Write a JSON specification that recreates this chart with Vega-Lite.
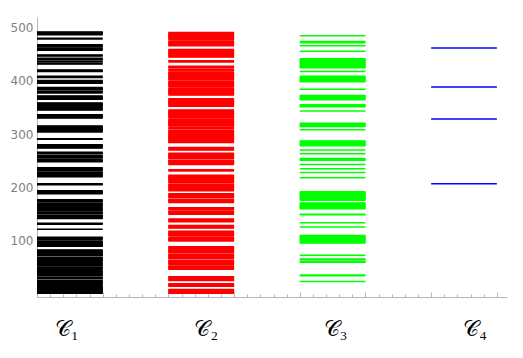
{
"$schema": "https://vega.github.io/schema/vega-lite/v6.json",
"width": 470, "height": 280,
"autosize": {"type": "none"},
"padding": {"left": 37, "top": 17, "right": 16, "bottom": 61},
"background": "white",
"config": {"view": {"stroke": null}, "axis": {"grid": false}},
"datasets": {
"lines": [
{"c":"C1","v":486},{"c":"C1","v":487},{"c":"C1","v":488},{"c":"C1","v":489},{"c":"C1","v":490},{"c":"C1","v":491},
{"c":"C1","v":478},{"c":"C1","v":479},
{"c":"C1","v":457},{"c":"C1","v":458},{"c":"C1","v":459},{"c":"C1","v":460},{"c":"C1","v":463},{"c":"C1","v":464},{"c":"C1","v":465},{"c":"C1","v":466},{"c":"C1","v":467},
{"c":"C1","v":446},{"c":"C1","v":447},{"c":"C1","v":448},
{"c":"C1","v":431},{"c":"C1","v":432},{"c":"C1","v":435},{"c":"C1","v":436},{"c":"C1","v":439},{"c":"C1","v":440},{"c":"C1","v":441},{"c":"C1","v":442},
{"c":"C1","v":417},{"c":"C1","v":418},{"c":"C1","v":419},{"c":"C1","v":420},
{"c":"C1","v":406},{"c":"C1","v":407},{"c":"C1","v":408},
{"c":"C1","v":395},{"c":"C1","v":396},{"c":"C1","v":397},{"c":"C1","v":398},{"c":"C1","v":399},{"c":"C1","v":400},
{"c":"C1","v":377},{"c":"C1","v":378},{"c":"C1","v":379},{"c":"C1","v":380},{"c":"C1","v":383},{"c":"C1","v":384},{"c":"C1","v":385},{"c":"C1","v":386},{"c":"C1","v":387},
{"c":"C1","v":365},{"c":"C1","v":366},{"c":"C1","v":367},{"c":"C1","v":368},{"c":"C1","v":369},{"c":"C1","v":370},{"c":"C1","v":371},
{"c":"C1","v":345},{"c":"C1","v":346},{"c":"C1","v":347},{"c":"C1","v":348},{"c":"C1","v":349},{"c":"C1","v":352},{"c":"C1","v":353},{"c":"C1","v":354},{"c":"C1","v":355},{"c":"C1","v":356},{"c":"C1","v":357},{"c":"C1","v":358},
{"c":"C1","v":330},{"c":"C1","v":331},{"c":"C1","v":332},{"c":"C1","v":333},{"c":"C1","v":334},{"c":"C1","v":335},{"c":"C1","v":336},
{"c":"C1","v":304},{"c":"C1","v":305},{"c":"C1","v":306},{"c":"C1","v":307},{"c":"C1","v":308},{"c":"C1","v":309},{"c":"C1","v":310},{"c":"C1","v":311},{"c":"C1","v":312},{"c":"C1","v":313},{"c":"C1","v":314},{"c":"C1","v":315},
{"c":"C1","v":290},{"c":"C1","v":291},
{"c":"C1","v":274},{"c":"C1","v":275},{"c":"C1","v":276},{"c":"C1","v":277},{"c":"C1","v":278},{"c":"C1","v":279},{"c":"C1","v":280},
{"c":"C1","v":248},{"c":"C1","v":249},{"c":"C1","v":250},{"c":"C1","v":251},{"c":"C1","v":252},{"c":"C1","v":255},{"c":"C1","v":256},{"c":"C1","v":257},{"c":"C1","v":258},{"c":"C1","v":259},{"c":"C1","v":260},{"c":"C1","v":263},{"c":"C1","v":264},{"c":"C1","v":265},{"c":"C1","v":266},
{"c":"C1","v":220},{"c":"C1","v":221},{"c":"C1","v":222},{"c":"C1","v":223},{"c":"C1","v":224},{"c":"C1","v":225},{"c":"C1","v":226},{"c":"C1","v":227},{"c":"C1","v":228},{"c":"C1","v":229},{"c":"C1","v":232},{"c":"C1","v":233},{"c":"C1","v":234},{"c":"C1","v":235},{"c":"C1","v":236},{"c":"C1","v":237},
{"c":"C1","v":205},{"c":"C1","v":206},{"c":"C1","v":207},
{"c":"C1","v":188},{"c":"C1","v":189},{"c":"C1","v":190},{"c":"C1","v":191},{"c":"C1","v":192},{"c":"C1","v":193},{"c":"C1","v":194},
{"c":"C1","v":142},{"c":"C1","v":143},{"c":"C1","v":144},{"c":"C1","v":145},{"c":"C1","v":146},{"c":"C1","v":147},{"c":"C1","v":148},{"c":"C1","v":151},{"c":"C1","v":152},{"c":"C1","v":153},{"c":"C1","v":154},{"c":"C1","v":157},{"c":"C1","v":158},{"c":"C1","v":159},{"c":"C1","v":160},{"c":"C1","v":161},{"c":"C1","v":162},{"c":"C1","v":165},{"c":"C1","v":166},{"c":"C1","v":167},{"c":"C1","v":168},{"c":"C1","v":169},{"c":"C1","v":170},{"c":"C1","v":173},{"c":"C1","v":174},{"c":"C1","v":175},{"c":"C1","v":176},{"c":"C1","v":177},
{"c":"C1","v":131},{"c":"C1","v":132},{"c":"C1","v":133},
{"c":"C1","v":122},
{"c":"C1","v":90},{"c":"C1","v":91},{"c":"C1","v":92},{"c":"C1","v":93},{"c":"C1","v":94},{"c":"C1","v":95},{"c":"C1","v":96},{"c":"C1","v":97},{"c":"C1","v":98},{"c":"C1","v":99},{"c":"C1","v":100},{"c":"C1","v":103},{"c":"C1","v":104},{"c":"C1","v":105},{"c":"C1","v":106},{"c":"C1","v":107},
{"c":"C1","v":2},{"c":"C1","v":3},{"c":"C1","v":4},{"c":"C1","v":5},{"c":"C1","v":6},{"c":"C1","v":7},{"c":"C1","v":8},{"c":"C1","v":9},{"c":"C1","v":10},{"c":"C1","v":11},{"c":"C1","v":12},{"c":"C1","v":13},{"c":"C1","v":14},{"c":"C1","v":15},{"c":"C1","v":16},
{"c":"C1","v":19},{"c":"C1","v":20},{"c":"C1","v":21},{"c":"C1","v":22},{"c":"C1","v":23},{"c":"C1","v":24},{"c":"C1","v":25},{"c":"C1","v":26},
{"c":"C1","v":29},{"c":"C1","v":30},{"c":"C1","v":31},{"c":"C1","v":32},
{"c":"C1","v":35},{"c":"C1","v":36},{"c":"C1","v":37},{"c":"C1","v":38},{"c":"C1","v":39},{"c":"C1","v":40},{"c":"C1","v":41},{"c":"C1","v":42},{"c":"C1","v":43},{"c":"C1","v":44},
{"c":"C1","v":47},{"c":"C1","v":48},{"c":"C1","v":49},{"c":"C1","v":50},{"c":"C1","v":51},
{"c":"C1","v":54},{"c":"C1","v":55},{"c":"C1","v":56},{"c":"C1","v":57},{"c":"C1","v":58},{"c":"C1","v":59},
{"c":"C1","v":62},{"c":"C1","v":63},{"c":"C1","v":64},{"c":"C1","v":65},{"c":"C1","v":66},{"c":"C1","v":67},{"c":"C1","v":68},{"c":"C1","v":69},
{"c":"C1","v":72},{"c":"C1","v":73},{"c":"C1","v":74},{"c":"C1","v":75},{"c":"C1","v":76},{"c":"C1","v":77},{"c":"C1","v":78},{"c":"C1","v":79},{"c":"C1","v":80},{"c":"C1","v":81},{"c":"C1","v":82},{"c":"C1","v":83},

{"c":"C2","v":465},{"c":"C2","v":466},{"c":"C2","v":467},{"c":"C2","v":468},{"c":"C2","v":469},{"c":"C2","v":470},{"c":"C2","v":471},{"c":"C2","v":472},{"c":"C2","v":473},{"c":"C2","v":474},
{"c":"C2","v":477},{"c":"C2","v":478},{"c":"C2","v":479},{"c":"C2","v":480},{"c":"C2","v":481},{"c":"C2","v":482},{"c":"C2","v":483},{"c":"C2","v":484},{"c":"C2","v":485},{"c":"C2","v":486},{"c":"C2","v":487},{"c":"C2","v":488},{"c":"C2","v":489},{"c":"C2","v":490},
{"c":"C2","v":444},{"c":"C2","v":445},{"c":"C2","v":446},{"c":"C2","v":447},{"c":"C2","v":448},{"c":"C2","v":449},{"c":"C2","v":450},{"c":"C2","v":451},{"c":"C2","v":452},{"c":"C2","v":453},{"c":"C2","v":454},{"c":"C2","v":455},{"c":"C2","v":456},{"c":"C2","v":457},{"c":"C2","v":458},
{"c":"C2","v":435},{"c":"C2","v":436},{"c":"C2","v":437},
{"c":"C2","v":373},{"c":"C2","v":374},{"c":"C2","v":375},{"c":"C2","v":376},{"c":"C2","v":377},{"c":"C2","v":378},{"c":"C2","v":379},{"c":"C2","v":380},{"c":"C2","v":381},{"c":"C2","v":382},{"c":"C2","v":383},{"c":"C2","v":384},{"c":"C2","v":385},{"c":"C2","v":386},
{"c":"C2","v":389},{"c":"C2","v":390},{"c":"C2","v":391},{"c":"C2","v":392},{"c":"C2","v":393},{"c":"C2","v":394},{"c":"C2","v":395},{"c":"C2","v":396},{"c":"C2","v":397},{"c":"C2","v":398},{"c":"C2","v":399},
{"c":"C2","v":402},{"c":"C2","v":403},{"c":"C2","v":404},{"c":"C2","v":405},{"c":"C2","v":406},{"c":"C2","v":407},{"c":"C2","v":408},{"c":"C2","v":409},{"c":"C2","v":410},{"c":"C2","v":411},{"c":"C2","v":412},{"c":"C2","v":413},{"c":"C2","v":414},{"c":"C2","v":415},{"c":"C2","v":416},
{"c":"C2","v":419},{"c":"C2","v":420},{"c":"C2","v":421},
{"c":"C2","v":424},{"c":"C2","v":425},{"c":"C2","v":426},{"c":"C2","v":427},
{"c":"C2","v":352},{"c":"C2","v":353},{"c":"C2","v":354},{"c":"C2","v":355},{"c":"C2","v":356},{"c":"C2","v":357},{"c":"C2","v":358},{"c":"C2","v":359},{"c":"C2","v":360},{"c":"C2","v":361},{"c":"C2","v":362},{"c":"C2","v":363},{"c":"C2","v":364},{"c":"C2","v":365},{"c":"C2","v":366},
{"c":"C2","v":284},{"c":"C2","v":285},{"c":"C2","v":286},{"c":"C2","v":287},{"c":"C2","v":288},{"c":"C2","v":289},{"c":"C2","v":290},{"c":"C2","v":291},{"c":"C2","v":292},{"c":"C2","v":293},{"c":"C2","v":294},{"c":"C2","v":295},{"c":"C2","v":296},{"c":"C2","v":297},{"c":"C2","v":298},{"c":"C2","v":299},{"c":"C2","v":300},{"c":"C2","v":301},{"c":"C2","v":302},{"c":"C2","v":303},{"c":"C2","v":304},{"c":"C2","v":305},{"c":"C2","v":306},{"c":"C2","v":307},
{"c":"C2","v":310},{"c":"C2","v":311},{"c":"C2","v":312},
{"c":"C2","v":315},{"c":"C2","v":316},{"c":"C2","v":317},{"c":"C2","v":318},{"c":"C2","v":319},{"c":"C2","v":320},{"c":"C2","v":321},{"c":"C2","v":322},{"c":"C2","v":323},{"c":"C2","v":324},{"c":"C2","v":325},{"c":"C2","v":326},{"c":"C2","v":327},{"c":"C2","v":328},
{"c":"C2","v":331},{"c":"C2","v":332},{"c":"C2","v":333},{"c":"C2","v":334},{"c":"C2","v":335},{"c":"C2","v":336},{"c":"C2","v":337},{"c":"C2","v":338},{"c":"C2","v":339},{"c":"C2","v":340},{"c":"C2","v":341},{"c":"C2","v":342},{"c":"C2","v":343},{"c":"C2","v":344},{"c":"C2","v":345},
{"c":"C2","v":270},{"c":"C2","v":271},{"c":"C2","v":272},{"c":"C2","v":273},{"c":"C2","v":274},{"c":"C2","v":275},
{"c":"C2","v":243},{"c":"C2","v":244},{"c":"C2","v":245},{"c":"C2","v":246},{"c":"C2","v":247},{"c":"C2","v":248},{"c":"C2","v":249},{"c":"C2","v":250},{"c":"C2","v":251},
{"c":"C2","v":254},{"c":"C2","v":255},{"c":"C2","v":256},{"c":"C2","v":257},{"c":"C2","v":258},{"c":"C2","v":259},{"c":"C2","v":260},{"c":"C2","v":261},{"c":"C2","v":262},{"c":"C2","v":263},{"c":"C2","v":264},
{"c":"C2","v":231},{"c":"C2","v":232},{"c":"C2","v":233},
{"c":"C2","v":194},{"c":"C2","v":195},{"c":"C2","v":196},{"c":"C2","v":197},{"c":"C2","v":198},{"c":"C2","v":199},{"c":"C2","v":200},{"c":"C2","v":201},{"c":"C2","v":202},{"c":"C2","v":203},{"c":"C2","v":204},{"c":"C2","v":205},{"c":"C2","v":206},
{"c":"C2","v":209},{"c":"C2","v":210},{"c":"C2","v":211},{"c":"C2","v":212},{"c":"C2","v":213},{"c":"C2","v":214},{"c":"C2","v":215},{"c":"C2","v":216},{"c":"C2","v":217},{"c":"C2","v":218},{"c":"C2","v":219},{"c":"C2","v":220},{"c":"C2","v":221},{"c":"C2","v":222},{"c":"C2","v":223},
{"c":"C2","v":172},{"c":"C2","v":173},{"c":"C2","v":174},{"c":"C2","v":175},{"c":"C2","v":176},{"c":"C2","v":177},{"c":"C2","v":178},
{"c":"C2","v":181},{"c":"C2","v":182},{"c":"C2","v":183},{"c":"C2","v":184},{"c":"C2","v":185},{"c":"C2","v":186},{"c":"C2","v":187},{"c":"C2","v":188},
{"c":"C2","v":150},{"c":"C2","v":151},{"c":"C2","v":152},{"c":"C2","v":153},{"c":"C2","v":154},{"c":"C2","v":155},{"c":"C2","v":156},
{"c":"C2","v":159},{"c":"C2","v":160},{"c":"C2","v":161},{"c":"C2","v":162},
{"c":"C2","v":136},{"c":"C2","v":137},{"c":"C2","v":138},{"c":"C2","v":139},{"c":"C2","v":140},{"c":"C2","v":141},
{"c":"C2","v":124},{"c":"C2","v":125},{"c":"C2","v":126},{"c":"C2","v":127},{"c":"C2","v":128},{"c":"C2","v":129},
{"c":"C2","v":100},{"c":"C2","v":101},{"c":"C2","v":102},{"c":"C2","v":103},{"c":"C2","v":104},{"c":"C2","v":105},{"c":"C2","v":106},
{"c":"C2","v":109},{"c":"C2","v":110},{"c":"C2","v":111},{"c":"C2","v":112},{"c":"C2","v":113},{"c":"C2","v":114},{"c":"C2","v":115},{"c":"C2","v":116},{"c":"C2","v":117},{"c":"C2","v":118},
{"c":"C2","v":47},{"c":"C2","v":48},{"c":"C2","v":49},{"c":"C2","v":50},{"c":"C2","v":51},{"c":"C2","v":52},{"c":"C2","v":53},
{"c":"C2","v":56},{"c":"C2","v":57},{"c":"C2","v":58},{"c":"C2","v":59},{"c":"C2","v":60},{"c":"C2","v":61},{"c":"C2","v":62},{"c":"C2","v":63},{"c":"C2","v":64},
{"c":"C2","v":67},{"c":"C2","v":68},{"c":"C2","v":69},{"c":"C2","v":70},{"c":"C2","v":71},{"c":"C2","v":72},{"c":"C2","v":73},{"c":"C2","v":74},{"c":"C2","v":75},
{"c":"C2","v":78},{"c":"C2","v":79},{"c":"C2","v":80},{"c":"C2","v":81},{"c":"C2","v":82},{"c":"C2","v":83},{"c":"C2","v":84},{"c":"C2","v":85},{"c":"C2","v":86},{"c":"C2","v":87},{"c":"C2","v":88},{"c":"C2","v":89},
{"c":"C2","v":26},{"c":"C2","v":27},{"c":"C2","v":28},{"c":"C2","v":29},{"c":"C2","v":30},{"c":"C2","v":31},{"c":"C2","v":32},{"c":"C2","v":33},
{"c":"C2","v":15},{"c":"C2","v":16},{"c":"C2","v":17},{"c":"C2","v":18},{"c":"C2","v":19},{"c":"C2","v":20},
{"c":"C2","v":2},{"c":"C2","v":3},{"c":"C2","v":4},{"c":"C2","v":5},{"c":"C2","v":6},{"c":"C2","v":7},{"c":"C2","v":8},{"c":"C2","v":9},

{"c":"C3","v":484},{"c":"C3","v":471},{"c":"C3","v":473},{"c":"C3","v":465},{"c":"C3","v":455},
{"c":"C3","v":424},{"c":"C3","v":425},{"c":"C3","v":426},{"c":"C3","v":427},{"c":"C3","v":428},{"c":"C3","v":429},{"c":"C3","v":430},{"c":"C3","v":431},{"c":"C3","v":432},{"c":"C3","v":433},{"c":"C3","v":434},{"c":"C3","v":435},{"c":"C3","v":436},{"c":"C3","v":437},{"c":"C3","v":438},{"c":"C3","v":439},{"c":"C3","v":440},{"c":"C3","v":441},
{"c":"C3","v":417},
{"c":"C3","v":398},{"c":"C3","v":399},{"c":"C3","v":400},{"c":"C3","v":401},{"c":"C3","v":402},{"c":"C3","v":403},{"c":"C3","v":404},{"c":"C3","v":405},{"c":"C3","v":406},{"c":"C3","v":407},{"c":"C3","v":408},
{"c":"C3","v":384},
{"c":"C3","v":364},{"c":"C3","v":365},{"c":"C3","v":366},{"c":"C3","v":367},{"c":"C3","v":368},{"c":"C3","v":369},{"c":"C3","v":370},{"c":"C3","v":371},{"c":"C3","v":372},
{"c":"C3","v":351},{"c":"C3","v":352},{"c":"C3","v":353},{"c":"C3","v":354},{"c":"C3","v":355},
{"c":"C3","v":343},
{"c":"C3","v":314},{"c":"C3","v":315},{"c":"C3","v":316},{"c":"C3","v":317},{"c":"C3","v":318},{"c":"C3","v":319},{"c":"C3","v":320},
{"c":"C3","v":308},
{"c":"C3","v":278},{"c":"C3","v":279},{"c":"C3","v":280},{"c":"C3","v":281},{"c":"C3","v":282},{"c":"C3","v":283},{"c":"C3","v":284},{"c":"C3","v":285},{"c":"C3","v":286},{"c":"C3","v":287},
{"c":"C3","v":270},{"c":"C3","v":263},
{"c":"C3","v":251},{"c":"C3","v":252},{"c":"C3","v":253},{"c":"C3","v":254},
{"c":"C3","v":243},{"c":"C3","v":235},{"c":"C3","v":228},{"c":"C3","v":218},
{"c":"C3","v":176},{"c":"C3","v":177},{"c":"C3","v":178},{"c":"C3","v":179},{"c":"C3","v":180},{"c":"C3","v":181},{"c":"C3","v":182},{"c":"C3","v":183},{"c":"C3","v":184},{"c":"C3","v":185},{"c":"C3","v":186},{"c":"C3","v":187},{"c":"C3","v":188},{"c":"C3","v":189},{"c":"C3","v":190},{"c":"C3","v":191},{"c":"C3","v":192},
{"c":"C3","v":160},{"c":"C3","v":161},{"c":"C3","v":162},{"c":"C3","v":163},{"c":"C3","v":164},{"c":"C3","v":165},{"c":"C3","v":166},{"c":"C3","v":167},{"c":"C3","v":168},{"c":"C3","v":169},{"c":"C3","v":170},{"c":"C3","v":171},
{"c":"C3","v":149},{"c":"C3","v":150},{"c":"C3","v":134},{"c":"C3","v":126},
{"c":"C3","v":96},{"c":"C3","v":97},{"c":"C3","v":98},{"c":"C3","v":99},{"c":"C3","v":100},{"c":"C3","v":101},{"c":"C3","v":102},{"c":"C3","v":103},{"c":"C3","v":104},{"c":"C3","v":105},{"c":"C3","v":106},{"c":"C3","v":107},{"c":"C3","v":108},{"c":"C3","v":109},{"c":"C3","v":110},
{"c":"C3","v":73},{"c":"C3","v":65},{"c":"C3","v":66},{"c":"C3","v":60},{"c":"C3","v":61},{"c":"C3","v":62},
{"c":"C3","v":35},{"c":"C3","v":36},{"c":"C3","v":24},

{"c":"C4","v":461},{"c":"C4","v":388},{"c":"C4","v":328},{"c":"C4","v":207}
],
"frame": [{"t": 0}, {"t": 7}]
},
"layer": [
{
"data": {"name": "lines"},
"mark": {"type": "tick", "thickness": 1.5, "size": 65.7, "opacity": 1},
"encoding": {
"x": {"field": "c", "type": "nominal",
"scale": {"domain": ["C1","C2","C3","C4"], "paddingInner": 0.5, "paddingOuter": 0.0386, "align": 0, "round": false},
"axis": {"title": null, "domain": false, "ticks": false, "labelAngle": 0,
"labelExpr": "datum.label == 'C1' ? '𝒞₁' : datum.label == 'C2' ? '𝒞₂' : datum.label == 'C3' ? '𝒞₃' : '𝒞₄'",
"labelFont": "Liberation Serif",
"labelOffset": {"condition": [{"test": "datum.label == 'C1'", "value": -3}, {"test": "datum.label == 'C2'", "value": 5}, {"test": "datum.label == 'C3'", "value": 3}], "value": 11},
"labelFontSize": 22, "labelColor": "#000000", "labelPadding": 21, "labelBaseline": "top"}},
"y": {"field": "v", "type": "quantitative",
"scale": {"domain": [-5, 519], "nice": false, "zero": false},
"axis": {"title": null, "values": [100, 200, 300, 400, 500], "ticks": false, "domainColor": "#b8b8b8",
"labelColor": "#7f7f7f", "labelFont": "DejaVu Sans", "labelFontSize": 12, "labelPadding": 4}},
"color": {"field": "c", "type": "nominal",
"scale": {"domain": ["C1","C2","C3","C4"], "range": ["#000000","#ff0000","#00ff00","#0000ff"]}, "legend": null}
}
},
{
"data": {"name": "frame"},
"mark": {"type": "point", "opacity": 0},
"encoding": {
"x": {"field": "t", "type": "quantitative",
"scale": {"domain": [0, 7.154], "nice": false, "zero": false},
"axis": {"orient": "bottom", "title": null, "labels": false, "domainColor": "#b8b8b8", "tickColor": "#b8b8b8",
"values": [0,0.2,0.4,0.6,0.8,1,1.2,1.4,1.6,1.8,2,2.2,2.4,2.6,2.8,3,3.2,3.4,3.6,3.8,4,4.2,4.4,4.6,4.8,5,5.2,5.4,5.6,5.8,6,6.2,6.4,6.6,6.8,7],
"tickSize": {"condition": {"test": "datum.value % 1 === 0", "value": -5}, "value": -3}}}
}
}
],
"resolve": {"scale": {"x": "independent", "color": "independent"}, "axis": {"x": "independent"}}
}
